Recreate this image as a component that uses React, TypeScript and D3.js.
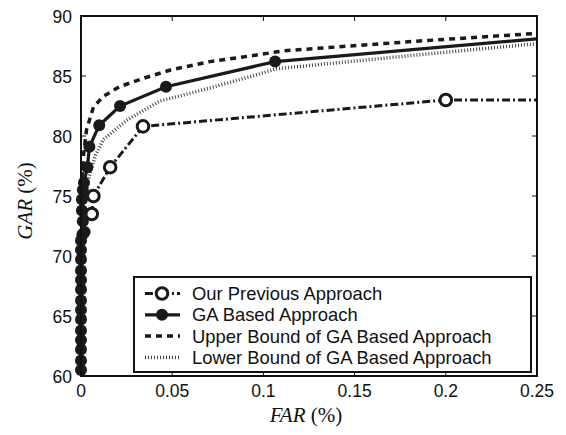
import React from 'react';
import * as d3 from 'd3';

// values
const xTicks = [0, 0.05, 0.1, 0.15, 0.2, 0.25];
const xTickLabels = ['0', '0.05', '0.1', '0.15', '0.2', '0.25'];
const yTicks = [60, 65, 70, 75, 80, 85, 90];

const gaFar = [0, 0, 0, 0, 0, 0, 0, 0, 0, 0, 0, 0, 0, 0, 0.0008, 0.002, 0.001, 0.0005, 0.0005, 0.001, 0.0016, 0.0035, 0.0046, 0.010, 0.0214, 0.0466, 0.1064, 0.25];
const gaGar = [60.5, 61.3, 62.2, 63.0, 63.8, 64.7, 65.5, 66.3, 67.2, 68.0, 68.8, 69.7, 70.5, 71.3, 71.8, 72.0, 72.9, 73.8, 74.7, 75.5, 76.1, 77.4, 79.1, 80.9, 82.5, 84.1, 86.2, 88.1];

const prevFar = [0.0059, 0.0068, 0.016, 0.034, 0.2, 0.25];
const prevGar = [73.5, 75.0, 77.4, 80.8, 83.0, 83.0];

const upperFar = [0.0005, 0.0013, 0.003, 0.0068, 0.0122, 0.021, 0.034, 0.049, 0.0707, 0.0963, 0.111, 0.184, 0.25];
const upperGar = [76.5, 78.3, 80.5, 82.4, 83.3, 84.1, 84.8, 85.5, 86.2, 86.75, 87.1, 87.9, 88.55];

const lowerFar = [0.002, 0.005, 0.008, 0.0122, 0.025, 0.043, 0.0707, 0.0963, 0.107, 0.184, 0.25];
const lowerGar = [75.0, 76.9, 78.4, 79.7, 81.3, 82.9, 84.0, 85.1, 85.6, 86.75, 87.7];

const legendLabels = [
  'Our Previous Approach',
  'GA Based Approach',
  'Upper Bound of GA Based Approach',
  'Lower Bound of GA Based Approach',
];

const W = 566;
const H = 435;
const margin = { top: 16, right: 29, bottom: 59, left: 81 };
const sans = '"Liberation Sans", Arial, Helvetica, sans-serif';
const serif = '"Liberation Serif", "Times New Roman", serif';

const zip = (xs: number[], ys: number[]) => xs.map((x, i) => [x, ys[i]] as [number, number]);

const dashDot = '8 3 2 3';
const dashed = '6 5';
const dotted = '1 2';

export default function App() {
  const x = d3.scaleLinear().domain([0, 0.25]).range([margin.left, W - margin.right]);
  const y = d3.scaleLinear().domain([60, 90]).range([H - margin.bottom, margin.top]);
  const line = d3.line<[number, number]>().x(d => x(d[0])).y(d => y(d[1]));

  const ga = zip(gaFar, gaGar);
  const prev = zip(prevFar, prevGar);
  const upper = zip(upperFar, upperGar);
  const lower = zip(lowerFar, lowerGar);

  const x0 = margin.left, x1 = W - margin.right;
  const y0 = H - margin.bottom, y1 = margin.top;

  const lg = { x: 134, y: 277, w: 397, h: 95 };
  const rowY = (i: number) => 293.5 + i * 21.3;
  const sx0 = 145, sx1 = 180, sxm = 162;

  return (
    <svg width={W} height={H} style={{ position: 'absolute', left: 0, top: 0 }}>
      <rect width={W} height={H} fill="#fff" />
      <defs>
        <clipPath id="plot">
          <rect x={x0} y={y1} width={x1 - x0} height={y0 - y1} />
        </clipPath>
      </defs>

      <g clipPath="url(#plot)" fill="none" stroke="#1a1a1a">
        <path d={line(lower) || ''} strokeWidth={3.5} strokeDasharray={dotted} stroke="#444" />
        <path d={line(upper) || ''} strokeWidth={3.5} strokeDasharray={dashed} />
        <path d={line(prev) || ''} strokeWidth={3} strokeDasharray={dashDot} />
        <path d={line(ga) || ''} strokeWidth={3.2} />
      </g>
      <g>
        {ga.slice(0, -1).map((d, i) => (
          <circle key={'g' + i} cx={x(d[0])} cy={y(d[1])} r={6} fill="#1a1a1a" />
        ))}
        {prev.slice(0, -1).map((d, i) => (
          <circle key={'p' + i} cx={x(d[0])} cy={y(d[1])} r={5.8} fill="#fff" stroke="#1a1a1a" strokeWidth={3} />
        ))}
      </g>

      {/* frame and ticks */}
      <rect x={x0} y={y1} width={x1 - x0} height={y0 - y1} fill="none" stroke="#111" strokeWidth={2} />
      {xTicks.map(t => (
        <g key={'xt' + t} stroke="#111" strokeWidth={1}>
          <line x1={x(t)} x2={x(t)} y1={y0} y2={y0 - 5} />
          <line x1={x(t)} x2={x(t)} y1={y1} y2={y1 + 5} />
        </g>
      ))}
      {yTicks.map(t => (
        <g key={'yt' + t} stroke="#111" strokeWidth={1}>
          <line x1={x0} x2={x0 + 5} y1={y(t)} y2={y(t)} />
          <line x1={x1} x2={x1 - 5} y1={y(t)} y2={y(t)} />
        </g>
      ))}
      {xTicks.map((t, i) => (
        <text key={'xl' + t} x={x(t)} y={397} textAnchor="middle" fontFamily={sans} fontSize={17.5} fill="#111">
          {xTickLabels[i]}
        </text>
      ))}
      {yTicks.map(t => (
        <text key={'yl' + t} x={72} y={y(t) + 6.5} textAnchor="end" fontFamily={sans} fontSize={17.5} fill="#111">
          {t}
        </text>
      ))}

      <text x={306} y={422} textAnchor="middle" fontFamily={serif} fontSize={21} fill="#111">
        <tspan fontStyle="italic">FAR</tspan> (%)
      </text>
      <text transform={`translate(32,201) rotate(-90)`} textAnchor="middle" fontFamily={serif} fontSize={21} fill="#111">
        <tspan fontStyle="italic">GAR</tspan> (%)
      </text>

      {/* legend */}
      <rect x={lg.x} y={lg.y} width={lg.w} height={lg.h} fill="#fff" stroke="#111" strokeWidth={2} />
      <g fill="none" stroke="#1a1a1a">
        <line x1={sx0} x2={sx1} y1={rowY(0)} y2={rowY(0)} strokeWidth={3} strokeDasharray={dashDot} />
        <circle cx={sxm} cy={rowY(0)} r={5.8} fill="#fff" strokeWidth={3} />
        <line x1={sx0} x2={sx1} y1={rowY(1)} y2={rowY(1)} strokeWidth={3.2} />
        <circle cx={sxm} cy={rowY(1)} r={6} fill="#1a1a1a" stroke="none" />
        <line x1={sx0} x2={sx1} y1={rowY(2)} y2={rowY(2)} strokeWidth={3.5} strokeDasharray={dashed} />
        <line x1={sx0} x2={sx1} y1={rowY(3)} y2={rowY(3)} strokeWidth={3.5} strokeDasharray={dotted} stroke="#444" />
      </g>
      {legendLabels.map((s, i) => (
        <text key={s} x={192} y={rowY(i) + 6.5} fontFamily={sans} fontSize={18.4} fill="#111">
          {s}
        </text>
      ))}
    </svg>
  );
}
